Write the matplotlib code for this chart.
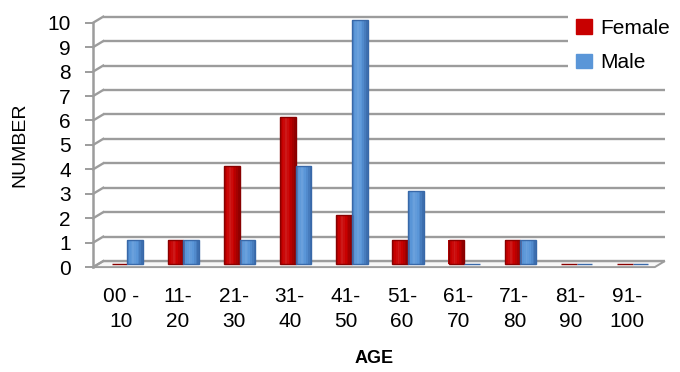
import matplotlib
matplotlib.use("Agg")
import matplotlib.pyplot as plt
import matplotlib.transforms as mtransforms
from matplotlib.colors import to_rgb
from matplotlib.patches import Patch, Polygon
import numpy as np

# age groups and counts
ages = ["00 -\n10", "11-\n20", "21-\n30", "31-\n40", "41-\n50",
        "51-\n60", "61-\n70", "71-\n80", "81-\n90", "91-\n100"]
female = [0, 1, 4, 6, 2, 1, 1, 1, 0, 0]
male = [1, 1, 1, 4, 10, 3, 0, 1, 0, 0]
yticks = list(range(0, 11))

RED = "#c80000"
RED_EDGE = "#880000"
BLUE = "#5a96d8"
BLUE_EDGE = "#3868a8"
GRID = "#9c9c9c"

plt.rcParams['font.family'] = ['Liberation Sans', 'DejaVu Sans']

fig = plt.figure(figsize=(6.8, 3.72), dpi=100)
ax = fig.add_axes([0.137, 0.282, 0.826, 0.657])
x = np.arange(len(ages))
ax.set_xlim(-0.5, len(ages) - 0.5)
ax.set_ylim(0, 10)

# fake 3D depth: back wall shifted right/up by a few pixels
DX, DY = 10, 6
back = mtransforms.offset_copy(ax.transData, fig=fig, x=DX, y=DY, units='dots')
mid = mtransforms.offset_copy(ax.transData, fig=fig, x=6, y=3, units='dots')
to_fig = fig.transFigure.inverted()


def fig_pt(xv, yv, dx=0, dy=0):
    px, py = ax.transData.transform((xv, yv))
    return to_fig.transform((px + dx, py + dy))


x0, x1 = -0.5, len(ages) - 0.5

# floor
pts = [fig_pt(x0, 0), fig_pt(x1, 0), fig_pt(x1, 0, DX, DY), fig_pt(x0, 0, DX, DY)]
ax.add_patch(Polygon(pts, closed=True, facecolor="#f7f7f7", edgecolor=GRID, lw=1.4,
                     transform=fig.transFigure, clip_on=False, zorder=1))

for v in yticks:
    ax.plot([x0, x1], [v, v], transform=back, color=GRID, lw=1.7,
            clip_on=False, zorder=1, solid_capstyle='butt')
    a = fig_pt(x0, v)
    b = fig_pt(x0, v, DX, DY)
    ax.plot([a[0], b[0]], [a[1], b[1]], transform=fig.transFigure,
            color=GRID, lw=1.7, clip_on=False, zorder=1)


def shaded_bars(xs, vals, width, base, edge):
    # cylinder-like shading: split each bar into thin vertical strips
    n = 9
    c0 = np.array(to_rgb(base))
    ce = np.array(to_rgb(edge))
    sw = width / n
    for i in range(n):
        t = (i + 0.5) / n
        k = 1 - abs(t - 0.4) / 0.6  # 1 at highlight, 0 at edges
        col = ce + (c0 - ce) * min(1, k * 1.6)
        if k > 0.7:
            col = col + (1 - col) * (k - 0.7) * 0.35
        ax.bar(xs - width / 2 + sw * (i + 0.5), vals, sw * 1.05, color=col,
               lw=0, transform=mid, zorder=3, clip_on=False)
    ax.bar(xs, vals, width, facecolor="none", edgecolor=edge, lw=1.0,
           transform=mid, zorder=4, clip_on=False)


w = 0.28
shaded_bars(x - w / 2, female, w, RED, RED_EDGE)
shaded_bars(x + w / 2, male, w, BLUE, BLUE_EDGE)

for s in ["top", "right", "bottom"]:
    ax.spines[s].set_visible(False)
ax.spines["left"].set_color(GRID)
ax.spines["left"].set_linewidth(1.8)
ax.patch.set_alpha(0)

ax.set_yticks(yticks)
ax.tick_params(axis='y', length=6, width=1.4, color=GRID, pad=10, labelsize=15)
ax.set_xticks(x)
ax.set_xticklabels(ages, fontsize=15, linespacing=1.4)
ax.tick_params(axis='x', length=0, pad=14)

ax.set_ylabel("NUMBER", fontsize=14, labelpad=14)
ax.set_xlabel("AGE", fontsize=13, fontweight='bold', labelpad=14)

handles = [Patch(facecolor=RED, edgecolor=RED), Patch(facecolor=BLUE, edgecolor=BLUE)]
fig.legend(handles, ["Female", "Male"], loc="upper left",
           bbox_to_anchor=(0.82, 1.0), fontsize=15, frameon=True,
           facecolor="white", edgecolor="none", framealpha=1,
           handlelength=0.75, handleheight=0.7, handletextpad=0.4,
           labelspacing=0.75, borderpad=0.4)

fig.savefig("out.png", dpi=100)
